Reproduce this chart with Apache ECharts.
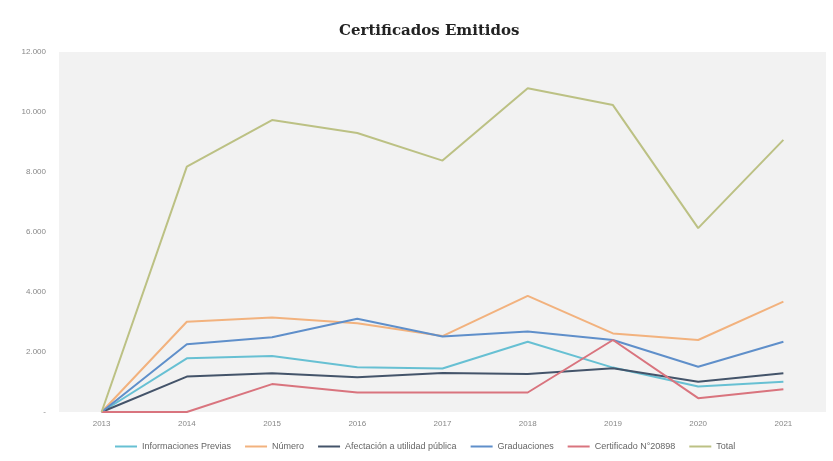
<!DOCTYPE html>
<html><head><meta charset="utf-8">
<script src="https://cdn.jsdelivr.net/npm/echarts@6/dist/echarts.min.js"></script>
<style>html,body{margin:0;padding:0;background:#fff}#c{width:833px;height:461px}</style>
</head><body><div id="c"></div>
<script>
const years = ['2013','2014','2015','2016','2017','2018','2019','2020','2021'];
const informacionesPrevias = [0,1790,1870,1490,1450,2340,1480,850,1010];
const numero = [0,3010,3150,2960,2530,3870,2620,2400,3680];
const afectacion = [0,1180,1290,1160,1300,1270,1460,1010,1290];
const graduaciones = [0,2260,2490,3110,2520,2680,2400,1510,2340];
const certificado20898 = [0,0,930,650,650,650,2400,460,760];
const total = [0,8180,9730,9300,8380,10790,10230,6130,9070];
const yTicks = [0,2000,4000,6000,8000,10000,12000];

const seriesDefs = [
  ['Informaciones Previas', informacionesPrevias, '#67c0d3'],
  ['Número', numero, '#f2b27e'],
  ['Afectación a utilidad pública', afectacion, '#44546a'],
  ['Graduaciones', graduaciones, '#5f8fca'],
  ['Certificado N°20898', certificado20898, '#d9747e'],
  ['Total', total, '#bcc184']
];
const chart = echarts.init(document.getElementById('c'));
chart.setOption({
  backgroundColor:'#ffffff',
  animation:false,
  title:{text:'Certificados Emitidos',left:334,top:19,
    textStyle:{fontFamily:'DejaVu Serif',fontWeight:'bold',fontSize:15,color:'#222'}},
  legend:{bottom:5,left:110,itemWidth:22,itemHeight:2,itemGap:14,icon:'rect',
    textStyle:{fontSize:9,color:'#666',fontFamily:'Liberation Sans'},
    data:seriesDefs.map(s=>s[0])},
  grid:{left:59,right:7,top:52,bottom:49,show:true,backgroundColor:'#f2f2f2',borderWidth:0},
  xAxis:{type:'category',data:years,boundaryGap:true,
    axisLine:{show:false},axisTick:{show:false},
    axisLabel:{fontSize:8,color:'#888',margin:8,fontFamily:'Liberation Sans'}},
  yAxis:{type:'value',min:yTicks[0],max:yTicks[yTicks.length-1],interval:2000,
    axisLine:{show:false},axisTick:{show:false},splitLine:{show:false},
    axisLabel:{fontSize:8,color:'#888',margin:13,fontFamily:'Liberation Sans',
      formatter:v=> v===0?'-':String(v).replace(/\B(?=(\d{3})+(?!\d))/g,'.')}},
  series:seriesDefs.map(s=>({name:s[0],type:'line',data:s[1],symbol:'none',
    lineStyle:{width:2,color:s[2]},itemStyle:{color:s[2]}}))
});
</script></body></html>
